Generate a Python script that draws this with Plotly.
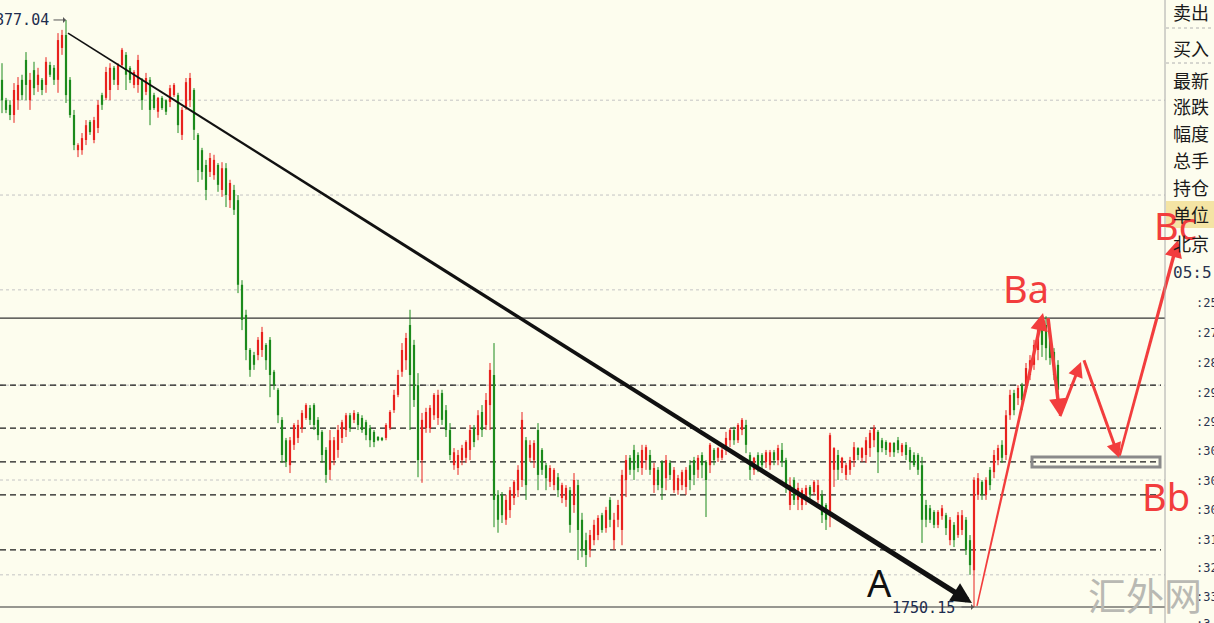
import plotly.graph_objects as go

# ---- candle data (price) ----
opens = [
    1864.1, 1859.7, 1858.7, 1856.5, 1859.7, 1864.1, 1868.4, 1859.7, 1866.2, 1863.0,
    1864.1, 1863.0, 1867.3, 1866.7, 1864.1, 1871.0, 1873.8, 1864.1, 1856.5, 1848.9,
    1848.9, 1851.1, 1855.0, 1851.1, 1853.7, 1860.8, 1860.2, 1861.9, 1866.7, 1863.0,
    1867.3, 1869.5, 1866.7, 1863.0, 1863.0, 1864.1, 1861.5, 1864.1, 1860.8, 1857.2,
    1860.2, 1859.7, 1859.3, 1860.8, 1860.8, 1852.2, 1858.0, 1859.7, 1861.9, 1852.2,
    1848.9, 1845.7, 1844.2, 1843.5, 1845.7, 1840.3, 1845.0, 1838.1, 1840.3, 1838.1,
    1819.8, 1813.3, 1805.7, 1804.6, 1804.6, 1805.7, 1806.8, 1807.9, 1801.0, 1797.1,
    1790.6, 1786.2, 1780.8, 1785.2, 1786.7, 1788.8, 1791.0, 1793.2, 1793.8, 1790.6,
    1788.0, 1784.1, 1779.8, 1781.9, 1784.1, 1786.7, 1788.4, 1791.6, 1790.6, 1791.9,
    1791.0, 1790.1, 1788.8, 1788.0, 1786.9, 1786.7, 1786.7, 1788.8, 1792.7, 1796.0,
    1801.0, 1803.5, 1811.1, 1806.8, 1798.1, 1781.9, 1788.8, 1788.8, 1791.6, 1791.0,
    1796.4, 1792.7, 1788.4, 1780.8, 1780.2, 1781.9, 1782.4, 1784.1, 1788.8, 1787.3,
    1792.3, 1789.5, 1793.8, 1800.3, 1774.4, 1774.4, 1769.0, 1771.1, 1773.7, 1775.4,
    1777.6, 1786.2, 1782.4, 1781.9, 1788.4, 1784.1, 1780.8, 1777.2, 1776.5, 1778.2,
    1773.7, 1773.3, 1775.4, 1772.2, 1776.5, 1769.0, 1764.6, 1762.5, 1764.6, 1765.7,
    1770.0, 1767.2, 1773.3, 1764.6, 1769.0, 1766.8, 1777.6, 1782.4, 1784.1, 1783.0,
    1780.2, 1781.9, 1783.0, 1776.5, 1779.8, 1781.5, 1778.0, 1781.3, 1775.4, 1775.4,
    1776.5, 1776.1, 1780.8, 1781.9, 1779.8, 1783.0, 1781.5, 1780.8, 1784.1, 1782.4,
    1782.4, 1784.1, 1786.2, 1788.4, 1786.2, 1788.4, 1789.5, 1783.0, 1779.8, 1783.0,
    1783.0, 1781.5, 1780.8, 1783.6, 1781.9, 1784.1, 1781.9, 1772.2, 1777.6, 1773.3,
    1772.2, 1773.3, 1776.1, 1775.0, 1773.3, 1774.4, 1772.2, 1770.0, 1779.8, 1783.0,
    1780.2, 1778.7, 1779.8, 1781.9, 1784.5, 1782.4, 1783.0, 1784.5, 1786.2, 1788.0,
    1786.2, 1785.8, 1783.6, 1785.6, 1786.2, 1783.6, 1785.2, 1784.1, 1783.0, 1783.0,
    1780.8, 1772.2, 1771.5, 1770.7, 1767.9, 1769.8, 1770.0, 1764.6, 1767.9, 1765.7,
    1766.8, 1769.0, 1764.6, 1758.1, 1774.4, 1777.2, 1774.4, 1779.8, 1779.3, 1781.9,
    1785.2, 1783.0, 1791.6, 1796.4, 1795.3, 1798.1, 1797.5, 1800.3, 1802.5, 1805.7,
    1811.5, 1811.1, 1808.9, 1805.3, 1802.5,
]
highs = [
    1867.7, 1860.2, 1859.7, 1863.4, 1864.7, 1865.2, 1870.1, 1865.6, 1868.0, 1866.7,
    1864.5, 1869.0, 1868.0, 1867.3, 1874.2, 1874.9, 1877.04, 1864.7, 1857.6, 1850.4,
    1852.6, 1855.4, 1855.4, 1856.1, 1859.7, 1861.3, 1866.9, 1867.7, 1867.1, 1867.7,
    1871.0, 1870.1, 1867.1, 1866.2, 1869.5, 1864.5, 1865.6, 1864.7, 1861.3, 1860.4,
    1860.6, 1859.9, 1863.0, 1863.4, 1861.3, 1858.2, 1864.5, 1865.6, 1862.3, 1852.6,
    1849.4, 1846.8, 1848.3, 1847.9, 1846.1, 1846.3, 1846.1, 1842.5, 1841.4, 1839.2,
    1820.8, 1814.4, 1806.1, 1805.3, 1808.5, 1810.7, 1807.2, 1808.5, 1801.4, 1797.5,
    1791.2, 1786.7, 1786.9, 1789.9, 1790.6, 1792.7, 1794.2, 1793.8, 1794.2, 1791.2,
    1788.4, 1784.7, 1788.4, 1786.9, 1789.5, 1790.6, 1792.1, 1792.1, 1792.7, 1792.3,
    1791.6, 1790.6, 1789.5, 1788.4, 1787.1, 1786.9, 1789.9, 1792.7, 1797.1, 1801.4,
    1807.2, 1809.4, 1814.4, 1807.9, 1800.7, 1792.1, 1793.2, 1793.8, 1796.4, 1797.1,
    1797.1, 1793.8, 1789.9, 1784.5, 1784.1, 1785.2, 1786.2, 1789.5, 1789.5, 1792.7,
    1793.8, 1796.4, 1802.9, 1807.2, 1775.4, 1775.0, 1774.4, 1776.1, 1777.6, 1780.8,
    1792.3, 1786.9, 1786.2, 1786.2, 1789.9, 1784.5, 1781.3, 1780.8, 1780.2, 1779.1,
    1777.0, 1776.5, 1776.1, 1779.1, 1777.6, 1770.5, 1766.2, 1766.8, 1769.0, 1770.0,
    1770.5, 1771.8, 1773.9, 1770.5, 1773.3, 1779.8, 1783.0, 1783.0, 1785.2, 1783.6,
    1785.2, 1785.2, 1784.1, 1781.3, 1780.4, 1781.9, 1783.0, 1781.9, 1780.4, 1778.7,
    1779.8, 1780.4, 1781.9, 1782.6, 1783.0, 1783.6, 1781.9, 1785.6, 1784.5, 1784.7,
    1784.5, 1788.0, 1788.8, 1789.1, 1789.9, 1791.0, 1790.6, 1783.6, 1782.6, 1783.6,
    1783.4, 1784.1, 1784.1, 1784.1, 1785.2, 1785.6, 1782.4, 1778.2, 1778.2, 1777.0,
    1775.9, 1776.5, 1776.5, 1777.6, 1777.6, 1775.4, 1772.6, 1787.8, 1784.7, 1784.1,
    1782.6, 1781.3, 1782.6, 1785.8, 1784.7, 1784.7, 1786.9, 1788.4, 1789.5, 1788.4,
    1786.7, 1786.2, 1785.8, 1785.8, 1786.9, 1785.6, 1785.8, 1784.7, 1783.6, 1783.4,
    1782.6, 1773.3, 1772.2, 1771.1, 1771.1, 1772.2, 1770.5, 1769.6, 1768.5, 1770.7,
    1771.1, 1769.6, 1765.7, 1778.2, 1779.1, 1777.6, 1778.2, 1780.4, 1784.1, 1785.2,
    1786.2, 1792.7, 1797.1, 1797.1, 1798.1, 1798.6, 1802.9, 1804.6, 1807.9, 1811.1,
    1812.6, 1813.0, 1810.0, 1806.1, 1803.5,
]
lows = [
    1856.9, 1856.9, 1855.4, 1854.8, 1857.6, 1859.7, 1859.7, 1857.6, 1860.8, 1861.5,
    1860.8, 1861.3, 1864.7, 1863.0, 1861.3, 1869.5, 1859.1, 1855.9, 1848.9, 1847.4,
    1847.9, 1850.0, 1852.2, 1850.4, 1852.6, 1857.6, 1859.7, 1859.7, 1863.0, 1861.9,
    1866.9, 1861.9, 1863.4, 1862.3, 1861.3, 1857.6, 1860.8, 1854.3, 1857.6, 1855.9,
    1857.6, 1856.5, 1858.2, 1860.4, 1852.6, 1851.1, 1857.6, 1858.2, 1851.1, 1842.0,
    1842.5, 1838.1, 1843.1, 1842.5, 1839.9, 1838.8, 1836.6, 1836.4, 1834.9, 1818.0,
    1810.0, 1803.5, 1799.9, 1801.4, 1803.5, 1804.2, 1801.4, 1795.5, 1797.1, 1789.9,
    1781.3, 1780.4, 1779.1, 1784.1, 1785.6, 1787.8, 1790.6, 1789.5, 1788.4, 1786.2,
    1781.3, 1777.0, 1777.6, 1780.8, 1782.4, 1785.6, 1786.9, 1788.0, 1789.9, 1788.4,
    1787.8, 1786.2, 1784.7, 1784.7, 1786.0, 1786.0, 1786.2, 1788.4, 1792.1, 1795.5,
    1799.9, 1801.4, 1788.4, 1793.4, 1778.2, 1777.0, 1787.8, 1787.8, 1790.6, 1789.5,
    1789.5, 1786.9, 1781.9, 1779.8, 1778.7, 1780.8, 1781.3, 1781.9, 1784.7, 1786.2,
    1786.9, 1788.4, 1788.4, 1767.4, 1766.2, 1768.3, 1767.9, 1769.4, 1772.2, 1773.9,
    1776.1, 1773.3, 1781.5, 1780.2, 1775.4, 1778.7, 1775.4, 1776.1, 1775.4, 1773.9,
    1772.6, 1771.8, 1766.2, 1770.5, 1760.3, 1760.9, 1758.8, 1760.9, 1763.5, 1764.6,
    1766.2, 1766.2, 1767.4, 1762.5, 1767.4, 1763.5, 1773.9, 1778.7, 1777.6, 1779.3,
    1778.7, 1779.8, 1778.7, 1774.8, 1775.4, 1773.3, 1775.4, 1777.6, 1774.8, 1774.4,
    1775.4, 1774.4, 1775.4, 1776.5, 1778.0, 1778.0, 1769.6, 1779.1, 1780.8, 1781.5,
    1781.9, 1783.0, 1784.7, 1785.2, 1785.6, 1787.3, 1783.4, 1777.6, 1778.7, 1779.3,
    1779.8, 1780.2, 1779.8, 1780.8, 1780.8, 1780.4, 1774.8, 1771.1, 1772.2, 1771.1,
    1771.1, 1772.2, 1773.3, 1774.4, 1772.6, 1768.3, 1766.8, 1767.4, 1776.1, 1777.6,
    1779.1, 1777.6, 1778.7, 1780.4, 1781.9, 1781.5, 1781.3, 1782.6, 1784.7, 1779.1,
    1783.6, 1783.0, 1782.6, 1782.6, 1783.4, 1782.8, 1781.9, 1779.8, 1780.4, 1778.7,
    1764.0, 1767.4, 1768.3, 1767.2, 1767.2, 1769.0, 1765.7, 1763.5, 1763.1, 1765.1,
    1765.7, 1761.4, 1757.1, 1750.15, 1773.3, 1773.3, 1773.3, 1775.4, 1778.0, 1780.8,
    1781.3, 1781.9, 1790.6, 1791.6, 1793.8, 1792.7, 1796.6, 1799.2, 1801.4, 1803.5,
    1804.2, 1803.5, 1802.5, 1799.2, 1795.5,
]
closes = [
    1859.7, 1857.6, 1856.5, 1861.9, 1863.0, 1860.8, 1863.0, 1864.1, 1862.3, 1865.2,
    1861.9, 1868.0, 1865.2, 1864.1, 1872.7, 1873.8, 1860.8, 1856.5, 1850.0, 1850.0,
    1851.5, 1854.3, 1852.8, 1855.4, 1858.7, 1858.7, 1865.8, 1866.7, 1864.1, 1867.3,
    1870.6, 1865.2, 1864.1, 1865.8, 1868.4, 1859.7, 1864.5, 1857.6, 1858.0, 1860.2,
    1858.0, 1857.2, 1862.3, 1863.0, 1854.3, 1857.6, 1863.6, 1864.5, 1853.3, 1844.6,
    1844.2, 1840.3, 1847.2, 1846.8, 1841.4, 1845.0, 1839.2, 1841.8, 1836.0, 1819.8,
    1812.2, 1805.7, 1801.4, 1802.5, 1807.9, 1809.6, 1803.5, 1800.3, 1798.1, 1791.6,
    1783.0, 1781.5, 1786.2, 1789.5, 1789.5, 1792.1, 1793.8, 1790.6, 1789.5, 1787.3,
    1783.0, 1778.7, 1786.2, 1786.2, 1788.4, 1790.1, 1791.6, 1788.8, 1792.1, 1789.5,
    1788.4, 1787.3, 1786.2, 1785.8, 1786.2, 1786.2, 1789.5, 1792.3, 1796.0, 1800.3,
    1805.7, 1808.3, 1800.3, 1794.9, 1781.9, 1790.6, 1792.3, 1793.2, 1796.0, 1796.0,
    1790.6, 1788.4, 1783.0, 1783.6, 1783.0, 1784.5, 1785.8, 1788.4, 1785.8, 1791.6,
    1788.4, 1794.9, 1801.4, 1773.3, 1769.0, 1770.0, 1773.3, 1775.4, 1777.2, 1779.8,
    1790.6, 1776.5, 1785.2, 1785.6, 1778.7, 1779.8, 1778.0, 1780.2, 1779.8, 1775.4,
    1776.5, 1775.9, 1767.9, 1777.6, 1766.8, 1762.5, 1761.4, 1765.7, 1767.9, 1769.4,
    1766.8, 1771.1, 1769.0, 1769.0, 1772.2, 1778.7, 1781.9, 1779.8, 1779.8, 1780.2,
    1784.1, 1784.7, 1779.8, 1780.2, 1776.5, 1775.9, 1781.9, 1778.7, 1779.8, 1778.0,
    1779.3, 1779.8, 1777.6, 1778.7, 1782.4, 1780.8, 1777.6, 1785.2, 1781.9, 1784.5,
    1784.1, 1786.7, 1788.4, 1786.2, 1789.5, 1790.6, 1785.2, 1779.8, 1782.4, 1780.2,
    1780.8, 1783.6, 1783.6, 1781.9, 1784.5, 1781.5, 1776.5, 1776.5, 1773.3, 1775.9,
    1775.4, 1775.9, 1774.4, 1777.2, 1776.5, 1770.0, 1769.0, 1787.3, 1784.5, 1779.8,
    1782.4, 1780.8, 1781.9, 1784.7, 1783.0, 1784.5, 1786.2, 1787.8, 1788.8, 1783.6,
    1784.5, 1784.1, 1785.6, 1783.6, 1784.1, 1785.2, 1783.0, 1781.5, 1780.8, 1779.8,
    1769.0, 1769.0, 1769.0, 1767.9, 1770.7, 1771.5, 1767.2, 1769.0, 1764.6, 1770.0,
    1770.0, 1762.5, 1759.2, 1777.6, 1778.0, 1774.4, 1777.6, 1776.5, 1783.0, 1784.5,
    1782.4, 1791.6, 1796.0, 1792.7, 1797.5, 1794.9, 1801.8, 1803.5, 1806.8, 1810.0,
    1806.8, 1806.1, 1804.0, 1800.3, 1797.1,
]

# ---- reference levels ----
grid_levels = [1859.7, 1839.2, 1818.7, 1798.1, 1777.6, 1757.1]
dash_levels = [1798.1, 1788.8, 1781.5, 1774.4, 1762.5]
solid_levels = [1812.6, 1750.15]
peak_idx, peak_price = 16, 1877.04
low_idx, low_price = 243, 1750.15

# ---- hand drawn overlay (index, price) ----
trend_x = [16.5, 242.5]
trend_y = [1874.2, 1751.0]
wave_x = [243.75, 260.25, 261.5, 264.5, 264.5, 269.75, 270.5, 279.25, 279.25, 294.0]
wave_y = [1750.4, 1813.7, 1812.6, 1791.4, 1791.4, 1803.1, 1803.5, 1782.4, 1782.4, 1829.5]
box_x = [257.5, 289.5]
box_y = [1780.4, 1782.6]
labels = ['A', 'Ba', 'Bb', 'Bc']
label_x = [219.25, 256.0, 291.0, 293.25]
label_y = [1755.6, 1819.2, 1774.2, 1832.8]

panel_labels = ['卖出', '买入', '最新', '涨跌', '幅度', '总手', '持仓', '单位', '北京']
time_labels = ['05:5', ':25', ':27', ':28', ':29', ':29', ':30', ':30', ':30', ':31', ':32', ':33', ':3']

W, H = 1214, 623
BG = '#fdfdee'
RED = '#e8221e'
GREEN = '#1c8a1c'
ARROW_RED = '#f23d3d'
x_range = [-0.5, 303.0]
y_range = [1746.69, 1881.36]
sx = W / (x_range[1] - x_range[0])
sy = H / (y_range[1] - y_range[0])

fig = go.Figure()

# candles: wicks + bodies
for col, pick in ((RED, lambda i: closes[i] >= opens[i]), (GREEN, lambda i: closes[i] < opens[i])):
    ids = [i for i in range(len(closes)) if pick(i)]
    wx, wy = [], []
    for i in ids:
        wx += [i, i, None]
        wy += [lows[i], highs[i], None]
    fig.add_trace(go.Scatter(x=wx, y=wy, mode='lines', line=dict(color=col, width=1),
                             hoverinfo='skip'))
    fig.add_trace(go.Bar(x=ids,
                         y=[max(abs(closes[i] - opens[i]), 0.25) for i in ids],
                         base=[min(opens[i], closes[i]) for i in ids],
                         width=0.55, marker=dict(color=col, line=dict(width=0)),
                         hoverinfo='skip'))


def tapered_arrow(x0, y0, x1, y1, w0, w1, color, head, size):
    dx = (x1 - x0) * sx
    dy = (y1 - y0) * sy
    L = (dx * dx + dy * dy) ** 0.5
    ux, uy = dx / L, dy / L
    nx, ny = -uy, ux
    back = head * 0.6
    xe = x1 - ux * back / sx
    ye = y1 - uy * back / sy
    px = [x0 + nx * w0 / 2 / sx, xe + nx * w1 / 2 / sx, xe - nx * w1 / 2 / sx, x0 - nx * w0 / 2 / sx]
    py = [y0 + ny * w0 / 2 / sy, ye + ny * w1 / 2 / sy, ye - ny * w1 / 2 / sy, y0 - ny * w0 / 2 / sy]
    fig.add_trace(go.Scatter(x=px, y=py, mode='lines', fill='toself', fillcolor=color,
                             line=dict(width=0, color=color), hoverinfo='skip'))
    fig.add_annotation(x=x1, y=y1, xref='x', yref='y', ax=-ux * head, ay=uy * head,
                       text='', showarrow=True, arrowhead=2, arrowsize=size,
                       arrowwidth=w1, arrowcolor=color, standoff=0)


# horizontal levels
x_end = (1165 - 2) / 4
for lv in grid_levels:
    fig.add_shape(type='line', x0=x_range[0], x1=x_end, y0=lv, y1=lv, layer='below',
                  line=dict(color='#c4c4c4', width=1, dash='dot'))
for lv in dash_levels:
    fig.add_shape(type='line', x0=x_range[0], x1=x_end - 1, y0=lv, y1=lv, layer='below',
                  line=dict(color='#1a1a1a', width=1.2, dash='6px,4px'))
for lv in solid_levels:
    fig.add_shape(type='line', x0=x_range[0], x1=x_end, y0=lv, y1=lv, layer='below',
                  line=dict(color='#333333', width=1.2))

# gray box at Bb
fig.add_shape(type='rect', x0=box_x[0], x1=box_x[1], y0=box_y[0], y1=box_y[1],
              line=dict(color='#8a8a8a', width=3))

# trend line A
tapered_arrow(trend_x[0], trend_y[0], trend_x[1], trend_y[1], 1.5, 5.5, '#111111', 22, 0.75)

# wave B arrows
widths = [(1.5, 3.5), (3.5, 3.5), (3.0, 3.0), (3.0, 3.0), (2.5, 3.5)]
for k in range(5):
    w0, w1 = widths[k]
    tapered_arrow(wave_x[2 * k], wave_y[2 * k], wave_x[2 * k + 1], wave_y[2 * k + 1],
                  w0, w1, ARROW_RED, 16, 1.0)

# wave labels
for t, lx, ly in zip(labels, label_x, label_y):
    fig.add_annotation(x=lx, y=ly, xref='x', yref='y', text=t, showarrow=False,
                       xanchor='center', yanchor='middle',
                       font=dict(family='Noto Sans', size=38,
                                 color='#111111' if t == 'A' else ARROW_RED))

# extreme price tags
mono = dict(family='DejaVu Sans Mono', size=15, color='#1e2d4f')
fig.add_annotation(x=peak_idx, y=peak_price, xref='x', yref='y', text=f'{peak_price:.2f}',
                   showarrow=False, xanchor='right', xshift=-15, font=mono)
fig.add_annotation(x=peak_idx, y=peak_price, xref='x', yref='y', text='', showarrow=True,
                   ax=-14, ay=0, arrowhead=1, arrowwidth=1, arrowsize=1, arrowcolor='#555555')
fig.add_annotation(x=low_idx, y=low_price, xref='x', yref='y', text=f'{low_price:.2f}',
                   showarrow=False, xanchor='right', xshift=-17, yshift=-1, font=mono)
fig.add_annotation(x=low_idx, y=low_price, xref='x', yref='y', text='', showarrow=True,
                   ax=-14, ay=0, arrowhead=1, arrowwidth=1, arrowsize=1, arrowcolor='#555555')


# right info panel
def pxp(x):
    return x / W


def pyp(y):
    return 1 - y / H


fig.add_shape(type='rect', xref='paper', yref='paper', x0=pxp(1166), x1=1, y0=pyp(228), y1=pyp(201),
              fillcolor='#f4e4a4', line=dict(width=0), layer='below')
fig.add_shape(type='line', xref='paper', yref='paper', x0=pxp(1165), x1=pxp(1165), y0=0, y1=1,
              line=dict(color='#a8a8a8', width=1))
for yy in (28, 63):
    fig.add_shape(type='line', xref='paper', yref='paper', x0=pxp(1166), x1=1, y0=pyp(yy), y1=pyp(yy),
                  line=dict(color='#b0b0b0', width=1, dash='dot'))

panel_y = [12, 48, 80, 106, 133, 160, 187, 214, 243]
for t, yy in zip(panel_labels, panel_y):
    fig.add_annotation(x=pxp(1171), y=pyp(yy), xref='paper', yref='paper', text=t,
                       showarrow=False, xanchor='left', yanchor='middle',
                       font=dict(family='Noto Sans CJK SC', size=18, color='#1a1a1a'))
time_y = [272, 303, 333, 363, 393, 422, 451, 481, 510, 540, 568, 597, 624]
for k, (t, yy) in enumerate(zip(time_labels, time_y)):
    fig.add_annotation(x=pxp(1171 if k == 0 else 1194), y=pyp(yy), xref='paper', yref='paper',
                       text=t, showarrow=False, xanchor='left', yanchor='middle',
                       font=dict(family='DejaVu Sans Mono', size=16 if k == 0 else 12,
                                 color='#2a3350'))

# watermark
fig.add_annotation(x=pxp(1145), y=pyp(593), xref='paper', yref='paper', text='汇外网',
                   showarrow=False, xanchor='center', yanchor='middle',
                   font=dict(family='Noto Sans CJK SC', size=38, color='#b9b9b3'))

fig.update_layout(
    width=W, height=H,
    margin=dict(l=0, r=0, t=0, b=0),
    paper_bgcolor=BG, plot_bgcolor=BG,
    showlegend=False, barmode='overlay', hovermode=False,
    xaxis=dict(range=x_range, visible=False, showgrid=False, zeroline=False),
    yaxis=dict(range=y_range, visible=False, showgrid=False, zeroline=False),
)

fig.write_html("out.html", config={'displayModeBar': False},
               post_script="document.body.style.margin='0px';document.body.style.overflow='hidden';")
